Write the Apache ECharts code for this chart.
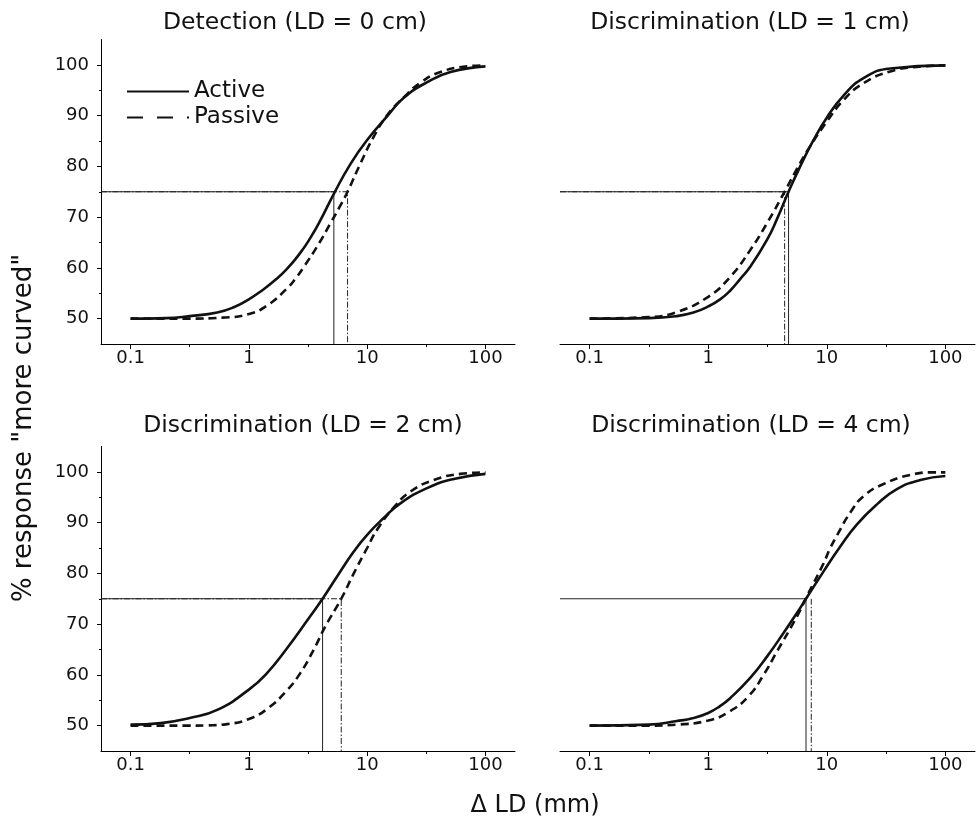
<!DOCTYPE html>
<html><head><meta charset="utf-8">
<script src="https://cdn.jsdelivr.net/npm/echarts@6/dist/echarts.min.js"></script>
<style>html,body{margin:0;padding:0;background:#fff}#c{width:977px;height:824px}</style>
</head><body><div id="c"></div>
<script>
// ---------------- data ----------------
const panelTitles = ['Detection (LD = 0 cm)', 'Discrimination (LD = 1 cm)', 'Discrimination (LD = 2 cm)', 'Discrimination (LD = 4 cm)'];
const seriesNames = ['Active', 'Passive'];
const xTickValues = [0.1, 1, 10, 100];
const xMinorTickValues = [0.316, 3.16, 31.6];
const yTickValues = [50, 60, 70, 80, 90, 100];
const yMinorTickValues = [55, 65, 75, 85, 95];
const criterion = 75;

const p1ActiveX = [0.1, 0.2, 0.316, 0.54, 0.77, 1, 1.3, 1.63, 2.1, 2.73, 3.33, 4.03, 5.23, 7.24, 10, 14.8, 20.4, 32.2, 50.7, 100];
const p1ActiveY = [50.0, 50.1, 50.5, 51.2, 52.4, 53.8, 55.6, 57.4, 59.8, 63.0, 66.0, 69.4, 74.6, 80.5, 85.2, 89.9, 93.5, 96.6, 98.6, 99.7];
const p1PassiveX = [0.1, 0.316, 0.6, 1, 1.43, 2.11, 2.5, 2.92, 3.91, 4.9, 5.85, 6.83, 8.79, 11.4, 14.8, 20.4, 28.3, 41.7, 70, 100];
const p1PassiveY = [50.0, 50.0, 50.2, 50.9, 52.6, 56.0, 58.0, 60.2, 64.8, 68.8, 72.0, 75.0, 80.6, 85.9, 90.1, 93.6, 96.5, 98.6, 99.7, 99.9];

const p2ActiveX = [0.1, 0.316, 0.544, 0.75, 1, 1.26, 1.53, 1.86, 2.26, 3.13, 3.8, 4.76, 5.97, 7.74, 10, 13.9, 20.4, 34.3, 100];
const p2ActiveY = [50.0, 50.1, 50.5, 51.2, 52.4, 53.8, 55.5, 57.8, 60.2, 65.5, 69.6, 75.0, 80.0, 85.2, 89.6, 94.0, 97.4, 99.3, 99.9];
const p2PassiveX = [0.1, 0.316, 0.544, 1, 1.53, 2.26, 3.13, 4.41, 5.6, 7.25, 10, 13.9, 20.4, 34.3, 57.5, 100];
const p2PassiveY = [50.0, 50.3, 51.3, 54.3, 58.2, 63.5, 68.8, 75.0, 79.5, 84.0, 88.8, 93.1, 96.4, 98.7, 99.6, 99.9];

const p3ActiveX = [0.1, 0.18, 0.316, 0.54, 1, 1.43, 2.11, 3.11, 4.2, 5.57, 7.71, 10, 13.8, 19.1, 32.1, 54, 100];
const p3ActiveY = [50.2, 50.5, 51.5, 53.1, 57.1, 60.4, 65.3, 70.7, 75.0, 79.4, 84.3, 87.6, 90.9, 93.8, 96.8, 98.6, 99.6];
const p3PassiveX = [0.1, 0.316, 0.45, 0.656, 1, 1.43, 2.11, 2.73, 3.54, 4.44, 6.04, 7.71, 10, 12.2, 16.8, 23.2, 36.6, 61.5, 100];
const p3PassiveY = [50.0, 50.0, 50.05, 50.3, 51.3, 53.3, 57.0, 60.4, 65.0, 69.6, 75.0, 80.0, 85.0, 88.7, 93.0, 96.1, 98.4, 99.6, 99.9];

const p4ActiveX = [0.1, 0.316, 0.544, 0.75, 1, 1.25, 1.53, 2.26, 3.13, 4.33, 5.6, 6.68, 9.4, 13, 17.9, 26.5, 39, 61.4, 100];
const p4ActiveY = [50.0, 50.2, 50.9, 51.5, 52.5, 53.8, 55.4, 59.4, 63.6, 68.3, 72.2, 75.0, 80.4, 85.3, 89.6, 93.6, 96.6, 98.4, 99.2];
const p4PassiveX = [0.1, 0.316, 0.544, 1, 1.49, 2.19, 2.93, 3.8, 5.6, 6.8, 9.4, 10.7, 12.2, 15.8, 20.4, 30.1, 50.6, 79, 100];
const p4PassiveY = [50.0, 50.0, 50.2, 51.0, 52.7, 55.8, 60.0, 64.6, 71.5, 75.5, 82.0, 85.0, 87.5, 92.0, 95.2, 97.6, 99.4, 99.9, 99.9];

const activeThreshold = [5.23, 4.76, 4.20, 6.68];
const passiveThreshold = [6.83, 4.41, 6.04, 7.40];
const passiveHorizontal = [true, true, true, false];

const curves = [
  [[p1ActiveX, p1ActiveY], [p1PassiveX, p1PassiveY]],
  [[p2ActiveX, p2ActiveY], [p2PassiveX, p2PassiveY]],
  [[p3ActiveX, p3ActiveY], [p3PassiveX, p3PassiveY]],
  [[p4ActiveX, p4ActiveY], [p4PassiveX, p4PassiveY]]
];

// ---------------- layout / styles ----------------
const FONT = 'DejaVu Sans';
const INK = '#111';
const xMin = -1.25, xMax = 2.25;   // axis extent in log10 units
const yMin = 45, yMax = 105;
const grids = [
  { left: 101, top: 39.5, width: 414, height: 304.5 },
  { left: 560, top: 39.5, width: 415, height: 304.5 },
  { left: 101, top: 446.5, width: 414, height: 304.5 },
  { left: 560, top: 446.5, width: 415, height: 304.5 }
];
const titlePos = [[295, 23], [750, 23], [303, 426], [751, 426]];

const lg = v => Math.log10(v);
const toPts = (xs, ys) => xs.map((x, i) => [lg(x), ys[i]]);

const xAxis = [], yAxis = [], series = [];
grids.forEach((g, i) => {
  xAxis.push({
    type: 'value', gridIndex: i, min: xMin, max: xMax, position: 'bottom',
    axisLine: { show: true, onZero: false, lineStyle: { color: '#000', width: 1 } },
    splitLine: { show: false },
    axisTick: { show: true, length: 5, customValues: xTickValues.map(lg), lineStyle: { color: '#000' } },
    axisLabel: { customValues: xTickValues.map(lg), margin: 5, fontSize: 18, fontFamily: FONT, color: INK,
      formatter: v => String(parseFloat(Math.pow(10, v).toPrecision(3))) }
  });
  xAxis.push({
    type: 'value', gridIndex: i, min: xMin, max: xMax, position: 'bottom',
    axisLine: { show: false, onZero: false }, splitLine: { show: false },
    axisTick: { show: true, length: 3, customValues: xMinorTickValues.map(lg), lineStyle: { color: '#000' } },
    axisLabel: { show: false }
  });
  const showY = (i % 2 === 0);
  yAxis.push({
    type: 'value', gridIndex: i, min: yMin, max: yMax, position: 'left', show: showY,
    axisLine: { show: true, onZero: false, lineStyle: { color: '#000', width: 1 } },
    splitLine: { show: false },
    axisTick: { show: true, length: 4, customValues: yTickValues, lineStyle: { color: '#000' } },
    axisLabel: { customValues: yTickValues, margin: 12, fontSize: 18, fontFamily: FONT, color: INK }
  });
  yAxis.push({
    type: 'value', gridIndex: i, min: yMin, max: yMax, position: 'left', show: showY,
    axisLine: { show: false, onZero: false }, splitLine: { show: false },
    axisTick: { show: true, length: 2, customValues: yMinorTickValues, lineStyle: { color: '#000' } },
    axisLabel: { show: false }
  });

  const xi = i * 2, yi = i * 2;
  const ta = lg(activeThreshold[i]), tp = lg(passiveThreshold[i]);
  series.push({
    type: 'line', name: 'refA' + i, xAxisIndex: xi, yAxisIndex: yi, silent: true, symbol: 'none',
    data: [[xMin, criterion], [ta, criterion], [ta, yMin]],
    lineStyle: { color: '#222', width: 1, type: 'solid' }, z: 2
  });
  series.push({
    type: 'line', name: 'refP' + i, xAxisIndex: xi, yAxisIndex: yi, silent: true, symbol: 'none',
    data: passiveHorizontal[i] ? [[xMin, criterion], [tp, criterion], [tp, yMin]] : [[tp, criterion], [tp, yMin]],
    lineStyle: { color: '#222', width: 1, type: [6, 2, 1.5, 2] }, z: 3
  });
  curves[i].forEach((c, k) => {
    series.push({
      type: 'line', name: seriesNames[k], xAxisIndex: xi, yAxisIndex: yi,
      symbol: 'none', smooth: 0.5,
      data: toPts(c[0], c[1]),
      lineStyle: { color: INK, width: 2.6, type: k === 0 ? 'solid' : [8, 5] },
      itemStyle: { color: INK }, z: 5
    });
  });
});

const graphic = panelTitles.map((t, i) => ({
  type: 'text', x: titlePos[i][0], y: titlePos[i][1],
  style: { text: t, font: '23.5px "' + FONT + '"', fill: INK, textAlign: 'center', textVerticalAlign: 'middle' }
}));
graphic.push({
  type: 'text', x: 24, y: 428, rotation: Math.PI / 2,
  style: { text: '% response "more curved"', font: '26px "' + FONT + '"', fill: INK, textAlign: 'center', textVerticalAlign: 'middle' }
});
graphic.push({
  type: 'text', x: 535, y: 806,
  style: { text: '\u0394 LD (mm)', font: '24px "' + FONT + '"', fill: INK, textAlign: 'center', textVerticalAlign: 'middle' }
});

const chart = echarts.init(document.getElementById('c'), null, { renderer: 'canvas' });
chart.setOption({
  animation: false,
  backgroundColor: '#fff',
  grid: grids,
  xAxis, yAxis, series, graphic,
  legend: {
    left: 121, top: 75, orient: 'vertical', itemWidth: 62, itemHeight: 14, itemGap: 3,
    selectedMode: false,
    itemStyle: { opacity: 0 },
    textStyle: { fontSize: 23, fontFamily: FONT, color: INK },
    data: [{ name: 'Active' }, { name: 'Passive', lineStyle: { type: [16, 14] } }]
  }
});
</script></body></html>
